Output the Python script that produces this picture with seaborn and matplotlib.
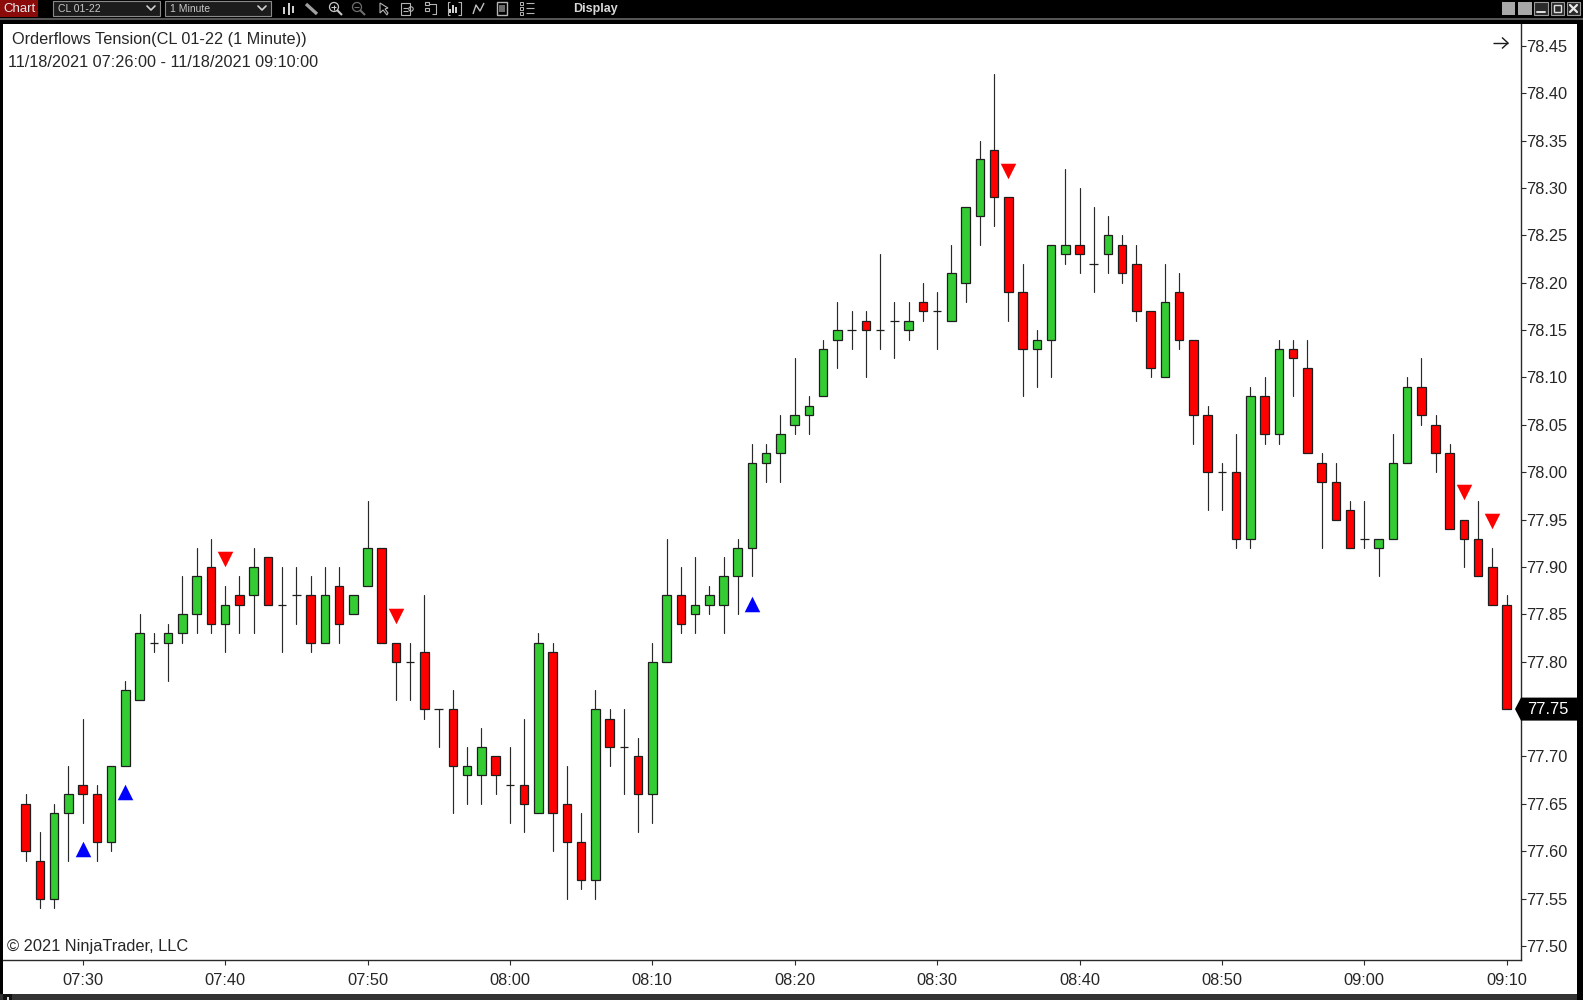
"""
Recreate the NinjaTrader one minute CL 01-22 candlestick chart with seaborn.
"""

import matplotlib
matplotlib.use('Agg')
import matplotlib.pyplot as plt
import pandas as pd
import seaborn as sns
from matplotlib.patches import Circle, Polygon, Rectangle

# minutes after 07:00, one bar for each minute from 07:26 to 09:10
minutes = list(range(26, 131))

opens = [
    77.65, 77.59, 77.55, 77.64, 77.67, 77.66, 77.61, 77.69, 77.76, 77.82,
    77.82, 77.83, 77.85, 77.90, 77.84, 77.87, 77.87, 77.91, 77.86, 77.87,
    77.87, 77.82, 77.88, 77.85, 77.88, 77.92, 77.82, 77.80, 77.81, 77.75,
    77.75, 77.68, 77.68, 77.70, 77.67, 77.67, 77.64, 77.81, 77.65, 77.61,
    77.57, 77.74, 77.71, 77.70, 77.66, 77.80, 77.87, 77.85, 77.86, 77.86,
    77.89, 77.92, 78.01, 78.02, 78.05, 78.06, 78.08, 78.14, 78.15, 78.16,
    78.15, 78.16, 78.15, 78.18, 78.17, 78.16, 78.20, 78.27, 78.34, 78.29,
    78.19, 78.13, 78.14, 78.23, 78.24, 78.22, 78.23, 78.24, 78.22, 78.17,
    78.10, 78.19, 78.14, 78.06, 78.00, 78.00, 77.93, 78.08, 78.04, 78.13,
    78.11, 78.01, 77.99, 77.96, 77.93, 77.92, 77.93, 78.01, 78.09, 78.05,
    78.02, 77.95, 77.93, 77.90, 77.86,
]
highs = [
    77.66, 77.62, 77.65, 77.69, 77.74, 77.67, 77.69, 77.78, 77.85, 77.83,
    77.84, 77.89, 77.92, 77.93, 77.88, 77.89, 77.92, 77.91, 77.90, 77.90,
    77.89, 77.90, 77.90, 77.87, 77.97, 77.92, 77.82, 77.82, 77.87, 77.75,
    77.77, 77.71, 77.73, 77.70, 77.71, 77.74, 77.83, 77.82, 77.69, 77.64,
    77.77, 77.75, 77.75, 77.72, 77.82, 77.93, 77.90, 77.91, 77.88, 77.91,
    77.93, 78.03, 78.03, 78.06, 78.12, 78.08, 78.14, 78.18, 78.17, 78.17,
    78.23, 78.18, 78.18, 78.20, 78.19, 78.24, 78.28, 78.35, 78.42, 78.29,
    78.22, 78.15, 78.24, 78.32, 78.30, 78.28, 78.27, 78.25, 78.24, 78.17,
    78.22, 78.21, 78.14, 78.07, 78.01, 78.04, 78.09, 78.10, 78.14, 78.14,
    78.14, 78.02, 78.01, 77.97, 77.97, 77.93, 78.04, 78.10, 78.12, 78.06,
    78.03, 77.95, 77.97, 77.92, 77.87,
]
lows = [
    77.59, 77.54, 77.54, 77.59, 77.63, 77.59, 77.60, 77.69, 77.76, 77.81,
    77.78, 77.82, 77.83, 77.83, 77.81, 77.83, 77.83, 77.86, 77.81, 77.84,
    77.81, 77.82, 77.82, 77.85, 77.88, 77.82, 77.76, 77.76, 77.74, 77.71,
    77.64, 77.65, 77.65, 77.66, 77.63, 77.62, 77.64, 77.60, 77.55, 77.56,
    77.55, 77.69, 77.66, 77.62, 77.63, 77.80, 77.83, 77.83, 77.85, 77.83,
    77.85, 77.89, 77.99, 77.99, 78.04, 78.04, 78.08, 78.11, 78.13, 78.10,
    78.13, 78.12, 78.14, 78.16, 78.13, 78.16, 78.18, 78.24, 78.26, 78.16,
    78.08, 78.09, 78.10, 78.22, 78.21, 78.19, 78.21, 78.20, 78.16, 78.10,
    78.10, 78.13, 78.03, 77.96, 77.96, 77.92, 77.92, 78.03, 78.03, 78.08,
    78.02, 77.92, 77.95, 77.92, 77.92, 77.89, 77.93, 78.01, 78.05, 78.00,
    77.94, 77.90, 77.89, 77.86, 77.75,
]
closes = [
    77.60, 77.55, 77.64, 77.66, 77.66, 77.61, 77.69, 77.77, 77.83, 77.82,
    77.83, 77.85, 77.89, 77.84, 77.86, 77.86, 77.90, 77.86, 77.86, 77.87,
    77.82, 77.87, 77.84, 77.87, 77.92, 77.82, 77.80, 77.80, 77.75, 77.75,
    77.69, 77.69, 77.71, 77.68, 77.67, 77.65, 77.82, 77.64, 77.61, 77.57,
    77.75, 77.71, 77.71, 77.66, 77.80, 77.87, 77.84, 77.86, 77.87, 77.89,
    77.92, 78.01, 78.02, 78.04, 78.06, 78.07, 78.13, 78.15, 78.15, 78.15,
    78.15, 78.16, 78.16, 78.17, 78.17, 78.21, 78.28, 78.33, 78.29, 78.19,
    78.13, 78.14, 78.24, 78.24, 78.23, 78.22, 78.25, 78.21, 78.17, 78.11,
    78.18, 78.14, 78.06, 78.00, 78.00, 77.93, 78.08, 78.04, 78.13, 78.12,
    78.02, 77.99, 77.95, 77.92, 77.93, 77.93, 78.01, 78.09, 78.06, 78.02,
    77.94, 77.93, 77.89, 77.86, 77.75,
]

signal_up_minutes = [30, 33, 77]
signal_up_prices = [77.602, 77.662, 77.861]
signal_down_minutes = [40, 52, 95, 127, 129]
signal_down_prices = [77.908, 77.848, 78.318, 77.979, 77.949]

time_ticks = list(range(30, 131, 10))
time_labels = ['07:30', '07:40', '07:50', '08:00', '08:10', '08:20', '08:30',
               '08:40', '08:50', '09:00', '09:10']
price_ticks = [77.50, 77.55, 77.60, 77.65, 77.70, 77.75, 77.80, 77.85, 77.90,
               77.95, 78.00, 78.05, 78.10, 78.15, 78.20, 78.25, 78.30, 78.35,
               78.40, 78.45]

GREEN = '#33CC33'
RED = '#FF0000'
LINE = '#2A2A2A'
TEXT = '#262626'
ICON = '#B4B4B4'
FONT = ['Liberation Sans', 'DejaVu Sans']

sns.set_theme(style='white')
plt.rcParams['font.family'] = FONT

W, H = 1583, 1000
fig = plt.figure(figsize=(W / 100, H / 100), dpi=100, facecolor='black')

# window chrome, drawn in pixel coordinates behind the chart
bg = fig.add_axes([0, 0, 1, 1], zorder=0)
bg.set_xlim(0, W)
bg.set_ylim(H, 0)
bg.axis('off')


def box(x0, y0, x1, y1, **kw):
    bg.add_patch(Rectangle((x0, y0), x1 - x0, y1 - y0, **kw))


def stroke(xs, ys, color=ICON, lw=0.8):
    bg.plot(xs, ys, color=color, lw=lw, solid_capstyle='butt')


def draw_toolbar_icons():
    # candles
    for x, y0, y1 in [(284, 7, 14), (289, 3, 15), (293, 6, 13)]:
        box(x - 1, y0, x + 1, y1, color='#D0D0D0', lw=0)
    # pencil
    stroke([306, 317], [4, 14], '#A0A0A0', 2.4)
    # zoom in and zoom out
    for cx, shade in [(334, '#C8C8C8'), (357, '#6E6E6E')]:
        bg.add_patch(Circle((cx, 7), 4.5, fill=False, edgecolor=shade, lw=0.9))
        stroke([cx + 3, cx + 8], [10, 15], shade, 1.5)
        stroke([cx - 2.5, cx + 2.5], [7, 7], shade)
    stroke([334, 334], [4.5, 9.5], '#C8C8C8')
    # pointer
    bg.add_patch(Polygon([(380, 3), (380, 13), (383, 10), (387, 15), (388, 13),
                          (385, 9), (388, 8)], closed=True, fill=False,
                         edgecolor=ICON, lw=0.8))
    # document
    box(401, 3, 410, 15, fill=False, edgecolor=ICON, lw=0.8)
    stroke([403, 408], [8, 8])
    stroke([403, 408], [11, 11])
    bg.add_patch(Circle((411, 9), 2.2, fill=False, edgecolor=ICON, lw=0.8))
    # panels
    box(425, 2, 429, 5, fill=False, edgecolor=ICON, lw=0.8)
    box(425, 8, 429, 11, fill=False, edgecolor=ICON, lw=0.8)
    stroke([429, 436, 436, 432], [3.5, 3.5, 14, 14])
    # framed bars
    for x, y0 in [(450, 9), (453, 5), (456, 7)]:
        box(x - 1, y0, x + 1, 13, color='#D0D0D0', lw=0)
    stroke([450, 448, 448, 450], [2, 2, 15, 15])
    stroke([458, 461, 461, 458], [2, 2, 15, 15])
    # polyline
    stroke([473, 476, 480, 484], [14, 5, 11, 3], '#C0C0C0', 1.0)
    # script page
    box(497, 2, 507, 15, fill=False, edgecolor=ICON, lw=1.0)
    box(499, 5, 505, 12, color='#6A6A6A', lw=0)
    # list
    for y in [3, 8, 13]:
        box(520, y - 1.5, 523.5, y + 1.5, fill=False, edgecolor=ICON, lw=0.7)
        stroke([526, 534], [y, y])


box(3, 24, 1577, 994, color='white', lw=0)
box(0, 994, 1577, 1000, color='#333333', lw=0)
box(3, 994, 12, 1000, color='#111111', lw=0)
box(7, 997, 9, 1000, color='#D8D8D8', lw=0)
box(0, 18, 1583, 19.5, color='#555555', lw=0)

# toolbar
box(0, 0, 38, 17, color='#8B0A0A', lw=0)
bg.text(3, 9, 'Chart', color='#E8E8E8', fontsize=9.5, va='center')
for x0, x1, label in [(53, 160, 'CL 01-22'), (165, 271, '1 Minute')]:
    box(x0, 0.5, x1, 15.5, facecolor='#1C1C1C', edgecolor='#8A8A8A', lw=0.8)
    bg.text(x0 + 5, 8.5, label, color='#C8C8C8', fontsize=7.5, va='center')
    bg.plot([x1 - 13, x1 - 9, x1 - 5], [6, 10, 6], color='#D0D0D0', lw=1.2)
draw_toolbar_icons()
bg.text(573, 9, 'Display', color='#D8D8D8', fontsize=9, va='center',
        fontweight='bold')
for x0, x1 in [(1502, 1515), (1518, 1532)]:
    box(x0, 2, x1, 15, color='#A8A8A8', lw=0)
for x0, x1 in [(1534, 1548), (1551, 1564), (1567, 1580)]:
    box(x0, 2, x1, 15, facecolor='#2A2A2A', edgecolor='#9A9A9A', lw=0.8)
bg.plot([1537, 1545], [12, 12], color='#E0E0E0', lw=1.4)
box(1554, 5, 1561, 12, fill=False, edgecolor='#E0E0E0', lw=1)
bg.plot([1570, 1577], [5, 12], color='#E8E8E8', lw=1.6)
bg.plot([1570, 1577], [12, 5], color='#E8E8E8', lw=1.6)

# chart labels
bg.text(12, 39.5, 'Orderflows Tension(CL 01-22 (1 Minute))', color=TEXT,
        fontsize=11.7, va='center')
bg.text(8, 62.5, '11/18/2021 07:26:00 - 11/18/2021 09:10:00', color=TEXT,
        fontsize=11.7, va='center')
bg.text(7, 946, '\u00a9 2021 NinjaTrader, LLC', color=TEXT, fontsize=11.75,
        va='center')
stroke([1493, 1508], [43, 43], '#1A1A1A', 1.0)
stroke([1502, 1508, 1502], [37.5, 43, 48.5], '#1A1A1A', 1.0)

# price chart
left, right, top, bottom = 3, 1520.7, 24, 960.3
ax = fig.add_axes([left / W, 1 - bottom / H, (right - left) / W,
                   (bottom - top) / H], zorder=1)
ax.patch.set_visible(False)

wicks = pd.DataFrame({
    'minute': minutes * 2,
    'price': lows + highs,
    'bar': minutes * 2,
})
sns.lineplot(data=wicks, x='minute', y='price', units='bar', estimator=None,
             color=LINE, linewidth=0.85, legend=False, ax=ax, zorder=1)

bars = pd.DataFrame({'minute': minutes, 'open': opens, 'close': closes})
bars['body'] = (bars['close'] - bars['open']).abs()
bars['base'] = bars[['open', 'close']].min(axis=1)

for mask, color in [(bars['close'] >= bars['open'], GREEN),
                    (bars['close'] < bars['open'], RED)]:
    part = bars[mask]
    sns.barplot(x=part['minute'].to_numpy(), y=part['body'].to_numpy(),
                bottom=part['base'].to_numpy(), native_scale=True, width=0.6,
                color=color, saturation=1, errorbar=None, edgecolor='#1E1E1E',
                linewidth=0.9, ax=ax, zorder=2)

sns.scatterplot(x=signal_up_minutes, y=signal_up_prices, marker='^', s=125,
                color='#0000FF', linewidth=0, ax=ax, zorder=3)
sns.scatterplot(x=signal_down_minutes, y=signal_down_prices, marker='v', s=125,
                color='#FF0000', linewidth=0, ax=ax, zorder=3)

ax.set_xlim(30 + (left - 82.7) / 14.24, 30 + (right - 82.7) / 14.24)
ax.set_ylim(77.5 + (946 - bottom) / 947.6, 77.5 + (946 - top) / 947.6)
ax.set_xticks(time_ticks, time_labels)
ax.set_yticks(price_ticks, [f'{p:.2f}' for p in price_ticks])
ax.set_xlabel('')
ax.set_ylabel('')
ax.yaxis.tick_right()
ax.tick_params(axis='both', length=3.5, width=0.8, color=LINE, labelcolor=TEXT,
               labelsize=11.75, bottom=True, right=True, left=False)
ax.tick_params(axis='x', pad=6)
ax.tick_params(axis='y', pad=0.5)
for side in ['left', 'top']:
    ax.spines[side].set_visible(False)
for side in ['right', 'bottom']:
    ax.spines[side].set_visible(True)
    ax.spines[side].set_color(LINE)
    ax.spines[side].set_linewidth(1.0)
ax.grid(False)

# last price tag over the price axis
tag_y = H - ax.transData.transform((0, closes[-1]))[1]
tag = Polygon([(1515, tag_y), (1521, tag_y - 11.5), (1577, tag_y - 11.5),
               (1577, tag_y + 11.5), (1521, tag_y + 11.5)], closed=True,
              color='black', lw=0, transform=bg.transData, clip_on=False,
              zorder=10)
ax.add_patch(tag)
ax.text(1527, tag_y, f'{closes[-1]:.2f}', color='white', fontsize=11.75,
        va='center', transform=bg.transData, zorder=11, clip_on=False)

fig.savefig('out.png', dpi=100, facecolor=fig.get_facecolor())
plt.close(fig)
